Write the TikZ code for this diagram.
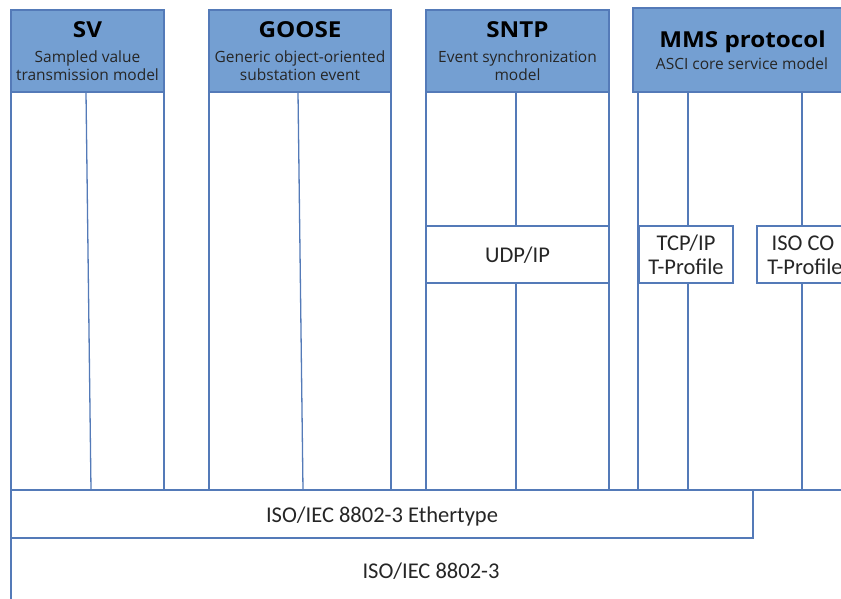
\documentclass[tikz,border=0pt]{standalone}
\usepackage{fontspec}
\newfontfamily\titlefont[FakeStretch=1.1]{Open Sans}
\newfontfamily\subfont{Open Sans}
\newfontfamily\boxfont{Carlito}
\definecolor{hdfill}{RGB}{116,159,210}
\definecolor{edgeblue}{RGB}{84,122,184}
\tikzset{
  hdr/.style={fill=hdfill,draw=edgeblue,line width=1.4pt},
  colbox/.style={draw=edgeblue,line width=1.3pt,fill=white},
  inner/.style={draw=edgeblue,line width=1.3pt},
  ttl/.style={font=\titlefont\bfseries\fontsize{22}{25}\selectfont,anchor=base,inner sep=0pt,text=black},
  sub/.style={font=\subfont\fontsize{15.5}{18}\selectfont,anchor=base,inner sep=0pt,text=black!85},
  lbl/.style={font=\boxfont\fontsize{22.5}{26}\selectfont,anchor=base,inner sep=0pt,text=black!85}
}
\begin{document}
\begin{tikzpicture}[x=1pt,y=-1pt]
\clip (0,0) rectangle (841,599);
\fill[white] (0,0) rectangle (841,599);
% column bodies
\draw[colbox] (11,92) rectangle (164,490);
\draw[colbox] (209,92) rectangle (391,490);
\draw[colbox] (426,92) rectangle (609,490);
\draw[inner] (638,92) -- (638,490);
\draw[inner] (638,490) -- (860,490);
% inner lines
\coordinate (sv1) at (86,92); \coordinate (sv2) at (91,490);
\draw[inner] (sv1) -- (sv2);
\coordinate (go1) at (298,92); \coordinate (go2) at (303,490);
\draw[inner] (go1) -- (go2);
\coordinate (sn1) at (516,92); \coordinate (sn2) at (516,226);
\coordinate (sn3) at (516,283); \coordinate (sn4) at (516,490);
\draw[inner] (sn1) -- (sn2) (sn3) -- (sn4);
\coordinate (tc1) at (688,92); \coordinate (tc2) at (688,226);
\coordinate (tc3) at (688,283); \coordinate (tc4) at (688,490);
\draw[inner] (tc1) -- (tc2) (tc3) -- (tc4);
\coordinate (is1) at (802,92); \coordinate (is2) at (802,226);
\coordinate (is3) at (802,283); \coordinate (is4) at (802,490);
\draw[inner] (is1) -- (is2) (is3) -- (is4);
% middle boxes
\draw[colbox] (426,226) rectangle (609,283);
\draw[colbox] (639,226) rectangle (733,283);
\draw[colbox] (757,226) rectangle (853,283);
% bottom boxes
\coordinate (low1) at (11,538); \coordinate (low2) at (11,620);
\draw[inner] (low1) -- (low2);
\draw[colbox] (11,490) rectangle (753,538);
% headers
\draw[hdr] (11,10) rectangle (164,92);
\draw[hdr] (209,10) rectangle (391,92);
\draw[hdr] (426,10) rectangle (609,92);
\draw[hdr] (633,8) rectangle (860,92);
% header texts
\node[ttl] (svT) at (87.5,38) {SV};
\node[sub] (svS1) at (87.5,63) {Sampled value};
\node[sub] (svS2) at (87.5,80.5) {transmission model};
\node[ttl] (goT) at (300,38) {GOOSE};
\node[sub] (goS1) at (300,63) {Generic object-oriented};
\node[sub] (goS2) at (300,80.5) {substation event};
\node[ttl] (snT) at (517.5,38) {SNTP};
\node[sub] (snS1) at (517.5,63) {Event synchronization};
\node[sub] (snS2) at (517.5,80.5) {model};
\node[ttl] (mmT) at (742.5,47.5) {MMS protocol};
\node[sub] (mmS) at (742,70) {ASCI core service model};
% box texts
\node[lbl] (udp) at (517.5,262) {UDP/IP};
\node[lbl] (tcp1) at (686,250) {TCP/IP};
\node[lbl] (tcp2) at (686,274) {T-Profile};
\node[lbl] (iso1) at (803,250) {ISO CO};
\node[lbl] (iso2) at (805,274) {T-Profile};
\node[lbl] (eth) at (382,522) {ISO/IEC 8802-3 Ethertype};
\node[lbl] (mac) at (431,578) {ISO/IEC 8802-3};
\end{tikzpicture}
\end{document}
